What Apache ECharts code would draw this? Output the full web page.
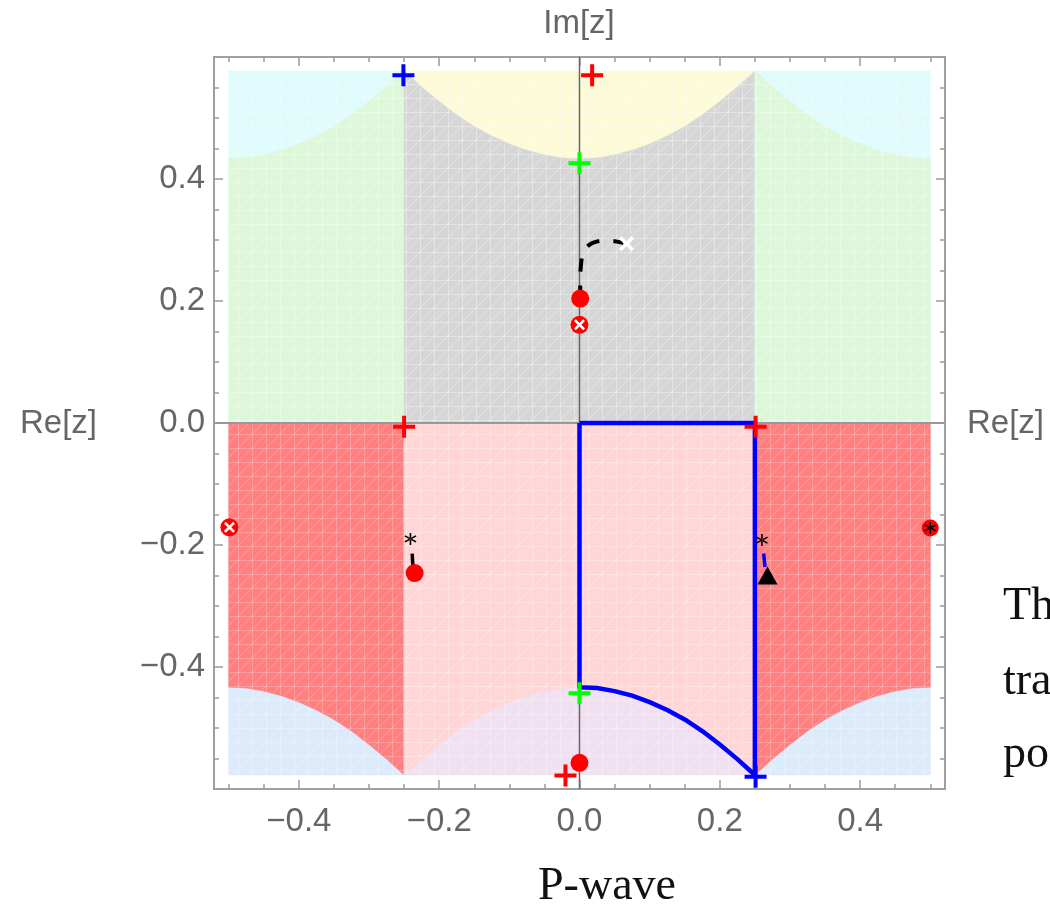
<!DOCTYPE html>
<html><head><meta charset="utf-8">
<script src="https://cdn.jsdelivr.net/npm/echarts@6/dist/echarts.min.js"></script>
<style>html,body{margin:0;padding:0;background:#fff}#c{width:1050px;height:910px}</style>
</head><body><div id="c"></div>
<script>
// ---------------- data ----------------
const xMajorTicks = [-0.4, -0.2, 0.0, 0.2, 0.4];
const xMinorTicks = [-0.5, -0.45, -0.35, -0.3, -0.25, -0.15, -0.1, -0.05, 0.05, 0.1, 0.15, 0.25, 0.3, 0.35, 0.45, 0.5];
const yMajorTicks = [-0.4, -0.2, 0.0, 0.2, 0.4];
const yMinorTicks = [-0.55, -0.5, -0.45, -0.35, -0.3, -0.25, -0.15, -0.1, -0.05, 0.05, 0.1, 0.15, 0.25, 0.3, 0.35, 0.45, 0.5, 0.55];
const xRange = [-0.521, 0.521];
const yRange = [-0.6, 0.6];

// region strips along Re[z] and the cusp-shaped boundary
const stripEdges = [-0.5, -0.25, 0.25, 0.5];
const troughs = [-0.5, 0.0, 0.5];
const domainTop = 0.577;
const arcOffset = [0, 0.025, 0.05, 0.075, 0.1, 0.125, 0.15, 0.175, 0.2, 0.225, 0.25];
const arcHeight = [0.433, 0.4345, 0.4395, 0.447, 0.4575, 0.4705, 0.486, 0.505, 0.527, 0.551, 0.577];

// markers
const redPlus = [[0.018, 0.570], [-0.25, -0.006], [0.251, -0.006], [-0.02, -0.578]];
const bluePlus = [[-0.251, 0.570], [0.251, -0.580]];
const greenPlus = [[0.0, 0.426], [0.0, -0.443]];
const redDots = [[0.001, 0.204], [-0.235, -0.246], [0.0, -0.557]];
const redCrossed = [[0.0, 0.161], [-0.499, -0.171]];
const redStarred = [[0.5, -0.172]];
const blackStars = [[-0.241, -0.190], [0.260, -0.192]];
const blackTriangles = [[0.268, -0.250]];
const whiteCrosses = [[0.067, 0.294]];

// trajectories
const dashedPath = [[0.001, 0.204], [0.001, 0.235], [0.002, 0.258], [0.004, 0.274], [0.009, 0.287], [0.018, 0.295], [0.033, 0.299], [0.05, 0.298], [0.063, 0.295]];
const leftStub = [[-0.2385, -0.214], [-0.2375, -0.236]];
const rightStub = [[0.2625, -0.214], [0.2645, -0.236]];

// ---------------- helpers ----------------
function curveAt(x) {
  let d = Infinity;
  troughs.forEach(t => { d = Math.min(d, Math.abs(x - t)); });
  for (let i = 0; i < arcOffset.length - 1; i++) {
    if (d <= arcOffset[i + 1] + 1e-9) {
      const f = (d - arcOffset[i]) / (arcOffset[i + 1] - arcOffset[i]);
      return arcHeight[i] + f * (arcHeight[i + 1] - arcHeight[i]);
    }
  }
  return arcHeight[arcHeight.length - 1];
}

// blue closed path: down Re=0, along the lower arch, up Re=0.25, back along Im=0
const bluePath = [[0, 0]];
arcOffset.forEach(o => bluePath.push([o, -curveAt(o)]));
bluePath.push([0.25, 0], [0, 0]);

// mesh-like texture (Mathematica region-plot triangulation look)
function meshPattern(base, line, step) {
  const c = document.createElement('canvas');
  c.width = step; c.height = step;
  const g = c.getContext('2d');
  g.fillStyle = base; g.fillRect(0, 0, step, step);
  g.strokeStyle = line; g.lineWidth = 1;
  g.beginPath();
  g.moveTo(0.5, 0); g.lineTo(0.5, step);
  g.moveTo(0, 0.5); g.lineTo(step, 0.5);
  g.moveTo(0, step); g.lineTo(step, 0);
  g.stroke();
  return { image: c, repeat: 'repeat' };
}

// region polygons: [x0, x1, half(+1 upper / -1 lower), layer(0 outer,1 inner), colorIndex]
const regionBase = ['#e0fbfc', '#dcf8d8', '#fdfbd7', '#d6d6d6', '#dcebfb', '#ff8080', '#f0e0f1', '#ffd5d5'];
const regionLine = ['rgba(255,255,255,0.25)', 'rgba(255,255,255,0.3)', 'rgba(255,255,255,0.3)', 'rgba(255,255,255,0.35)',
                    'rgba(255,255,255,0.25)', 'rgba(255,255,255,0.22)', 'rgba(255,255,255,0.25)', 'rgba(255,255,255,0.3)'];
const regionFill = regionBase.map((b, i) => meshPattern(b, regionLine[i], 14));
const regionData = [];
for (let s = 0; s < stripEdges.length - 1; s++) {
  const center = (s === 1);
  [1, -1].forEach(h => {
    const base = (h === 1 ? 0 : 4) + (center ? 2 : 0);
    regionData.push([stripEdges[s], stripEdges[s + 1], h, 0, base]);
    regionData.push([stripEdges[s], stripEdges[s + 1], h, 1, base + 1]);
  });
}

const plusPath = 'path://M9,0H13V9H22V13H13V22H9V13H0V9H9Z';
const xPath = 'path://M0,2L2,0L6,4L10,0L12,2L8,6L12,10L10,12L6,8L2,12L0,10L4,6Z';
const starPath = 'path://M4.4,0H5.6V10H4.4Z M9.03,8.02L9.63,6.98L0.97,1.98L0.37,3.02Z M9.63,3.02L9.03,1.98L0.37,6.98L0.97,8.02Z';

const fmt = v => (v < 0 ? '\u2212' : '') + Math.abs(v).toFixed(1);
const FRAME = '#9a9a9a';
const SANS = 'Liberation Sans, Arial, sans-serif';
const SERIF = 'Liberation Serif, Times New Roman, serif';
const TICKFONT = { fontSize: 33, color: '#666', fontFamily: SANS };

function xAxisDef(pos, ticks, len, label) {
  return {
    type: 'value', position: pos, min: xRange[0], max: xRange[1],
    axisLine: { show: true, onZero: false, lineStyle: { color: FRAME, width: 1.5 } },
    axisTick: { show: true, inside: true, length: len, customValues: ticks, lineStyle: { color: FRAME, width: 1.5 } },
    axisLabel: label ? Object.assign({ show: true, customValues: ticks, formatter: fmt, margin: 16 }, TICKFONT) : { show: false },
    splitLine: { show: false }
  };
}
function yAxisDef(pos, ticks, len, label) {
  return {
    type: 'value', position: pos, min: yRange[0], max: yRange[1],
    axisLine: { show: true, onZero: false, lineStyle: { color: FRAME, width: 1.5 } },
    axisTick: { show: true, inside: true, length: len, customValues: ticks, lineStyle: { color: FRAME, width: 1.5 } },
    axisLabel: label ? Object.assign({ show: true, customValues: ticks, formatter: fmt, margin: 9 }, TICKFONT) : { show: false },
    splitLine: { show: false }
  };
}

function scatter(data, symbol, size, color, z) {
  return { type: 'scatter', data: data, symbol: symbol, symbolSize: size, z: z, itemStyle: { color: color, opacity: 1 }, silent: true };
}
function txt(text, x, y, size, fill, family, align) {
  return { type: 'text', silent: true, style: { text: text, x: x, y: y, align: align || 'left', verticalAlign: 'middle', fontSize: size, fill: fill, fontFamily: family } };
}

const chart = echarts.init(document.getElementById('c'), null, { renderer: 'canvas' });
chart.setOption({
  animation: false,
  backgroundColor: '#ffffff',
  grid: { left: 214, top: 57, width: 731, height: 732, containLabel: false },
  xAxis: [
    xAxisDef('bottom', xMajorTicks, 9, true),
    xAxisDef('bottom', xMinorTicks, 5, false),
    xAxisDef('top', xMajorTicks, 9, false),
    xAxisDef('top', xMinorTicks, 5, false)
  ],
  yAxis: [
    yAxisDef('left', yMajorTicks, 9, true),
    yAxisDef('left', yMinorTicks, 5, false),
    yAxisDef('right', yMajorTicks, 9, false),
    yAxisDef('right', yMinorTicks, 5, false)
  ],
  graphic: [
    txt('Im[z]', 579, 24, 33, '#666', SANS, 'center'),
    txt('Re[z]', 20, 424, 33, '#666', SANS),
    txt('Re[z]', 967, 424, 33, '#666', SANS),
    txt('P-wave', 607, 887, 46, '#111', SERIF, 'center'),
    txt('Th', 1003, 607, 46, '#111', SERIF),
    txt('tra', 1003, 682, 46, '#111', SERIF),
    txt('po', 1003, 755, 46, '#111', SERIF)
  ],
  series: [
    {
      type: 'custom', z: 1, silent: true, data: regionData,
      renderItem: function (params, api) {
        const x0 = api.value(0), x1 = api.value(1), h = api.value(2), layer = api.value(3), ci = api.value(4);
        let pts = [];
        if (layer === 0) {
          pts = [[x0, 0], [x1, 0], [x1, h * domainTop], [x0, h * domainTop]];
        } else {
          pts.push([x0, 0]);
          const n = Math.round((x1 - x0) / 0.0125);
          for (let i = 0; i <= n; i++) { const x = x0 + (x1 - x0) * i / n; pts.push([x, h * curveAt(x)]); }
          pts.push([x1, 0]);
        }
        return { type: 'polygon', shape: { points: pts.map(p => api.coord(p)) }, style: { fill: regionFill[ci], stroke: regionBase[ci], lineWidth: 0.6 } };
      }
    },
    // coordinate axes through the origin
    { type: 'line', data: [[0, yRange[0]], [0, yRange[1]]], z: 2, symbol: 'none', silent: true, lineStyle: { color: '#666', width: 1.5 } },
    { type: 'line', data: [[xRange[0], 0], [xRange[1], 0]], z: 2, symbol: 'none', silent: true, lineStyle: { color: '#999', width: 2 } },
    // trajectories
    { type: 'line', data: bluePath, z: 3, symbol: 'none', silent: true, lineStyle: { color: '#0000ff', width: 4.5, join: 'round' } },
    { type: 'line', data: dashedPath, z: 3, symbol: 'none', silent: true, smooth: 0.3, lineStyle: { color: '#000', width: 4, type: [13, 14], cap: 'butt' } },
    { type: 'line', data: leftStub, z: 3, symbol: 'none', silent: true, lineStyle: { color: '#000', width: 3.5 } },
    { type: 'line', data: rightStub, z: 3, symbol: 'none', silent: true, lineStyle: { color: '#0000ff', width: 3.5 } },
    // markers
    scatter(redDots, 'circle', 18, '#ff0000', 4),
    scatter(redCrossed, 'circle', 18, '#ff0000', 4),
    scatter(redCrossed, xPath, 11, '#ffffff', 5),
    scatter(redStarred, 'circle', 17, '#ff0000', 4),
    scatter(redStarred, starPath, 12, '#000000', 5),
    scatter(blackStars, starPath, 12, '#000000', 5),
    scatter(blackTriangles, 'triangle', [20, 18], '#000000', 5),
    scatter(whiteCrosses, xPath, 15, '#ffffff', 5),
    scatter(greenPlus, plusPath, 22, '#00ff00', 6),
    scatter(redPlus, plusPath, 22, '#ff0000', 6),
    scatter(bluePlus, plusPath, 22, '#0000ff', 6)
  ]
});
</script>
</body></html>
